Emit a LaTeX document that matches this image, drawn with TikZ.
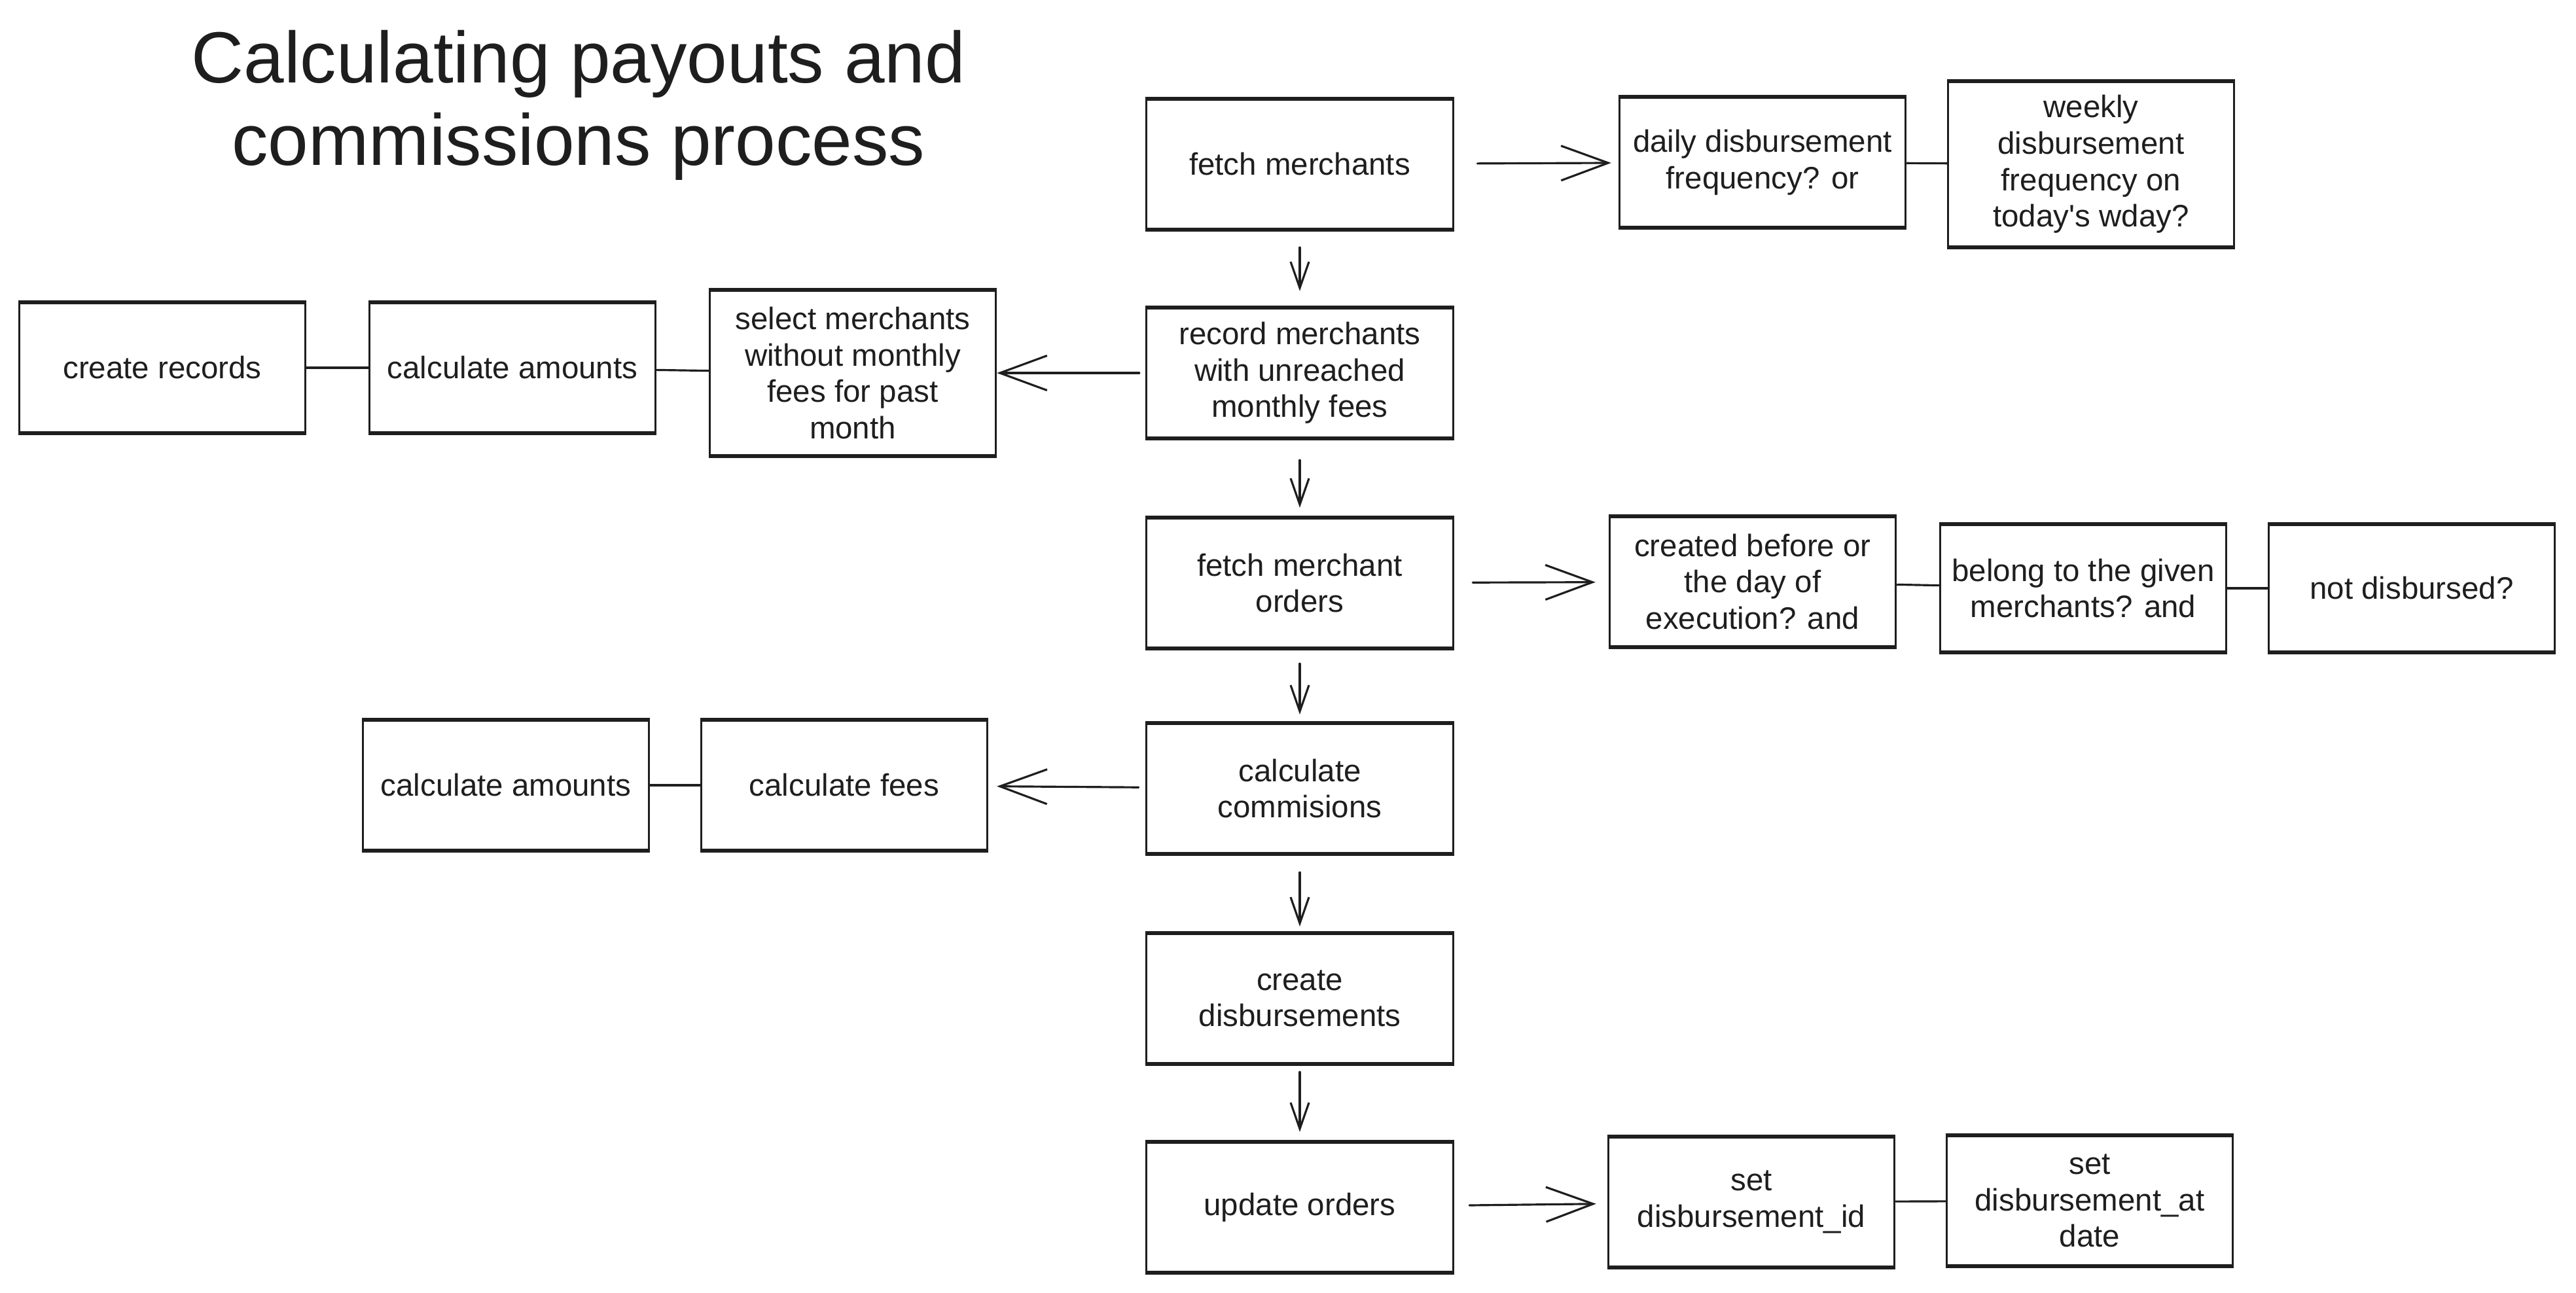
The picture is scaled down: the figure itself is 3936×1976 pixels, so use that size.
\documentclass[tikz,border=0pt]{standalone}
\usepackage{fontspec}
\setmainfont{Liberation Sans}
\usetikzlibrary{arrows.meta}
\definecolor{ink}{HTML}{1E1E1E}
\begin{document}
\begin{tikzpicture}[x=0.01cm,y=-0.01cm,
  box/.style={draw=ink, line width=0.9pt, text=ink, align=center, inner sep=0pt,
    minimum width=4.37cm, minimum height=1.97cm, font=\fontsize{13.5}{15.8}\selectfont},
  mainbox/.style={box, minimum width=4.69cm},
  edge/.style={draw=ink, line width=1.8pt},
  arr/.style={draw=ink, line width=0.9pt, line cap=round, -{Straight Barb[length=0.72cm,width=0.53cm]}},
  varr/.style={draw=ink, line width=0.9pt, line cap=round, -{Straight Barb[length=0.4cm,width=0.28cm]}},
  link/.style={draw=ink, line width=0.9pt}]
  \useasboundingbox (0,0) rectangle (3936,1976);
  % title
  \node[text=ink, align=center, font=\fontsize{31.5}{36}\selectfont] (title) at (884,161)
    {Calculating payouts and\\commissions process};
  % main column
  \node[mainbox] (fetchM) at (1986,251) {fetch merchants};
  \node[mainbox] (recordM) at (1986,570) {record merchants\\with unreached\\monthly fees};
  \node[mainbox] (fetchO) at (1986,891) {fetch merchant\\orders};
  \node[mainbox] (calcComm) at (1986,1205) {calculate\\commisions};
  \node[mainbox] (createDisb) at (1986,1526) {create\\disbursements};
  \node[mainbox] (updateO) at (1986,1845) {update orders};
  % merchant conditions
  \node[box] (dailyF) at (2693,248) {daily disbursement\\frequency? or};
  \node[box, minimum height=2.51cm] (weeklyF) at (3195,251) {weekly\\disbursement\\frequency on\\today\textquotesingle s wday?};
  % monthly fees branch
  \node[box, minimum height=2.51cm] (selectM) at (1303,570) {select merchants\\without monthly\\fees for past\\month};
  \node[box] (calcAmtA) at (783,562) {calculate amounts};
  \node[box] (createRec) at (248,562) {create records};
  % order conditions
  \node[box] (createdB) at (2678,889) {created before or\\the day of\\execution? and};
  \node[box, minimum height=1.93cm] (belongM) at (3183,899) {belong to the given\\merchants? and};
  \node[box, minimum height=1.93cm] (notDisb) at (3685,899) {not disbursed?};
  % commissions branch
  \node[box] (calcFees) at (1290,1200) {calculate fees};
  \node[box] (calcAmtB) at (773,1200) {calculate amounts};
  % order updates
  \node[box] (setId) at (2676,1837) {set\\disbursement\_id};
  \node[box] (setAt) at (3193,1835) {set\\disbursement\_at\\date};
  % heavier top and bottom strokes
  \foreach \b in {fetchM,recordM,fetchO,calcComm,createDisb,updateO,dailyF,weeklyF,
    selectM,calcAmtA,createRec,createdB,belongM,notDisb,calcFees,calcAmtB,setId,setAt}
    \path[edge] (\b.north west) -- (\b.north east) (\b.south west) -- (\b.south east);
  % flow down the main column
  \path[varr, shorten <=0.27cm, shorten >=0.25cm] (fetchM) -- (recordM);
  \path[varr, shorten <=0.33cm, shorten >=0.15cm] (recordM) -- (fetchO);
  \path[varr, shorten <=0.23cm, shorten >=0.13cm] (fetchO) -- (calcComm);
  \path[varr, shorten <=0.28cm, shorten >=0.10cm] (calcComm) -- (createDisb);
  \path[varr, shorten <=0.12cm, shorten >=0.15cm] (createDisb) -- (updateO);
  % side arrows
  \path[arr, shorten <=0.35cm, shorten >=0.11cm] (fetchM) -- (dailyF);
  \path[arr, shorten <=0.09cm] (recordM) -- (selectM);
  \path[arr, shorten <=0.28cm, shorten >=0.20cm] (fetchO) -- (createdB);
  \path[arr, shorten <=0.10cm, shorten >=0.13cm] (calcComm) -- (calcFees);
  \path[arr, shorten <=0.23cm, shorten >=0.17cm] (updateO) -- (setId);
  % plain links
  \path[link] (dailyF) -- (weeklyF);
  \path[link] (selectM) -- (calcAmtA);
  \path[link] (calcAmtA) -- (createRec);
  \path[link] (createdB) -- (belongM);
  \path[link] (belongM) -- (notDisb);
  \path[link] (calcFees) -- (calcAmtB);
  \path[link] (setId) -- (setAt);
\end{tikzpicture}
\end{document}
